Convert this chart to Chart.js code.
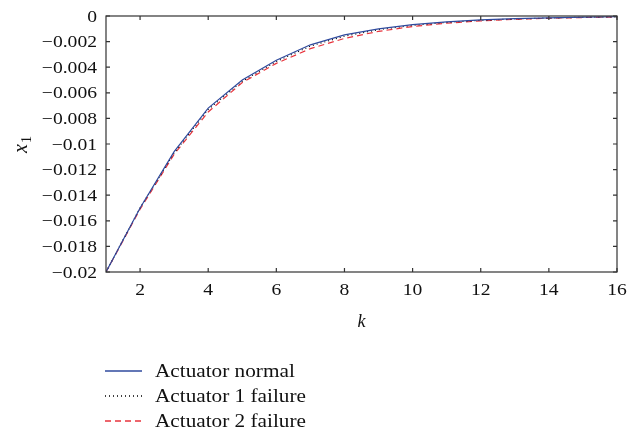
<!DOCTYPE html>
<html>
<head>
<meta charset="utf-8">
<script src="https://cdn.jsdelivr.net/npm/chart.js@4/dist/chart.umd.min.js"></script>
<style>
html,body{margin:0;padding:0;background:#fff;}
#wrap{width:628px;height:436px;position:relative;}
</style>
</head>
<body>
<div id="wrap"><canvas id="c" width="628" height="436"></canvas></div>
<script>
const kValues = [1,2,3,4,5,6,7,8,9,10,11,12,13,14,15,16];
const seriesNames = ['Actuator normal','Actuator 1 failure','Actuator 2 failure'];
const normal   = [-0.0200,-0.0150,-0.0106,-0.0072,-0.0050,-0.00345,-0.00225,-0.00148,-0.00100,-0.00068,-0.00046,-0.00031,-0.00021,-0.00014,-0.00009,-0.00006];
const failure1 = [-0.0200,-0.0150,-0.0107,-0.0073,-0.0051,-0.00355,-0.00235,-0.00158,-0.00107,-0.00073,-0.00050,-0.00034,-0.00023,-0.00016,-0.00010,-0.00007];
const failure2 = [-0.0200,-0.0151,-0.0108,-0.0075,-0.0052,-0.00370,-0.00255,-0.00175,-0.00120,-0.00082,-0.00056,-0.00038,-0.00026,-0.00018,-0.00012,-0.00008];
const xTicks = [2,4,6,8,10,12,14,16];
const yTicks = [0,-0.002,-0.004,-0.006,-0.008,-0.01,-0.012,-0.014,-0.016,-0.018,-0.02];

const FONT = '"Liberation Serif", "Times New Roman", serif';
const colors = ['#2f4a9e','#000000','#e8333c'];
const dashes = [[],[1,3],[6,4]];

function fmtY(v){
  if (Math.abs(v) < 1e-12) return '0';
  return '\u2212' + parseFloat(Math.abs(v).toFixed(3)).toString();
}

function drawStretched(ctx, text, x, y, align, sx){
  ctx.save();
  ctx.translate(x, y);
  ctx.scale(sx, 1);
  ctx.textAlign = align;
  ctx.fillText(text, 0, 0);
  ctx.restore();
}

const framePlugin = {
  id:'frame',
  afterDraw(chart){
    const ctx = chart.ctx, a = chart.chartArea;
    const xs = chart.scales.x, ys = chart.scales.y;
    ctx.save();
    ctx.strokeStyle = '#333';
    ctx.lineWidth = 1.2;
    ctx.strokeRect(a.left, a.top, a.right-a.left, a.bottom-a.top);
    const tl = 4;
    ctx.beginPath();
    xs.ticks.forEach(t=>{
      const px = xs.getPixelForValue(t.value);
      ctx.moveTo(px, a.bottom); ctx.lineTo(px, a.bottom-tl);
      ctx.moveTo(px, a.top); ctx.lineTo(px, a.top+tl);
    });
    ys.ticks.forEach(t=>{
      const py = ys.getPixelForValue(t.value);
      ctx.moveTo(a.left, py); ctx.lineTo(a.left+tl, py);
      ctx.moveTo(a.right, py); ctx.lineTo(a.right-tl, py);
    });
    ctx.stroke();

    ctx.fillStyle = '#111';
    ctx.textBaseline = 'middle';
    // tick labels
    ctx.font = '17.5px ' + FONT;
    xs.ticks.forEach(t=>{
      drawStretched(ctx, String(t.value), xs.getPixelForValue(t.value), 290, 'center', 1.12);
    });
    ys.ticks.forEach(t=>{
      drawStretched(ctx, fmtY(t.value), a.left - 9, ys.getPixelForValue(t.value) + 1, 'right', 1.12);
    });

    // axis titles
    ctx.textAlign = 'center';
    ctx.font = 'italic 18px ' + FONT;
    ctx.fillText('k', (a.left+a.right)/2, 322);
    ctx.save();
    ctx.translate(22, 144);
    ctx.rotate(-Math.PI/2);
    ctx.font = 'italic 20px ' + FONT;
    ctx.textAlign = 'left';
    ctx.fillText('x', -9, 0);
    ctx.font = '14px ' + FONT;
    ctx.fillText('1', 1, 5);
    ctx.restore();

    // legend
    const rowY = [371, 396, 421];
    chart.data.datasets.forEach((ds,i)=>{
      ctx.save();
      ctx.strokeStyle = ds.borderColor;
      ctx.lineWidth = 1.3;
      ctx.setLineDash(ds.borderDash || []);
      ctx.beginPath();
      ctx.moveTo(105, rowY[i]); ctx.lineTo(142, rowY[i]);
      ctx.stroke();
      ctx.restore();
      ctx.fillStyle = '#111';
      ctx.font = '18px ' + FONT;
      drawStretched(ctx, ds.label, 155, rowY[i]+1, 'left', 1.18);
    });
    ctx.restore();
  }
};

const datasets = [normal, failure1, failure2].map((arr,i)=>({
  label: seriesNames[i],
  data: kValues.map((k,j)=>({x:k, y:arr[j]})),
  borderColor: colors[i],
  borderWidth: 1.2,
  borderDash: dashes[i],
  pointRadius: 0,
  fill: false,
  tension: 0
}));
datasets[0].order = 0; datasets[1].order = 1; datasets[2].order = 2;

new Chart(document.getElementById('c'), {
  type: 'line',
  data: { datasets },
  options: {
    responsive: false,
    animation: false,
    devicePixelRatio: 1,
    layout: { padding: { left: 0, top: 16, right: 11, bottom: 124 } },
    plugins: { legend: { display: false }, tooltip: { enabled: false } },
    scales: {
      x: {
        type: 'linear', min: 1, max: 16,
        afterBuildTicks: s => { s.ticks = xTicks.map(v=>({value:v})); },
        afterFit: s => { s.height = 40; },
        grid: { display: false, drawTicks: false },
        border: { display: false },
        ticks: { display: false }
      },
      y: {
        type: 'linear', min: -0.02, max: 0,
        afterBuildTicks: s => { s.ticks = yTicks.map(v=>({value:v})); },
        afterFit: s => { s.width = 106; },
        grid: { display: false, drawTicks: false },
        border: { display: false },
        ticks: { display: false }
      }
    }
  },
  plugins: [framePlugin]
});
</script>
</body>
</html>
